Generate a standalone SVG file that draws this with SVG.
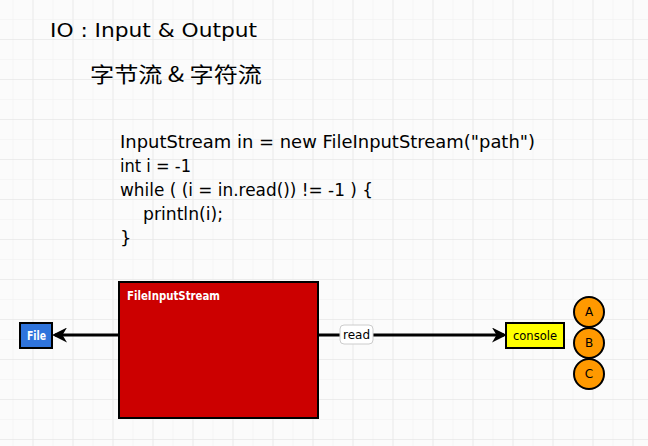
<svg xmlns="http://www.w3.org/2000/svg" width="648" height="446" viewBox="0 0 648 446">
  <defs>
    <pattern id="minor" x="12.5" y="19" width="20" height="20" patternUnits="userSpaceOnUse">
      <path d="M0 0H20M0 0V20" fill="none" stroke="#efefef" stroke-width="1"/>
    </pattern>
    <pattern id="major" x="32.5" y="39" width="40" height="40" patternUnits="userSpaceOnUse">
      <path d="M0 0H40M0 0V40" fill="none" stroke="#e9e9e9" stroke-width="1.5"/>
    </pattern>
    <marker id="arr" viewBox="0 0 10 10" refX="8" refY="5" markerWidth="5" markerHeight="5" orient="auto">
      <path d="M0 0L10 5L0 10L3 5Z" fill="#000"/>
    </marker>
    <style>
      .t{font-family:"DejaVu Sans","Liberation Sans","Noto Sans CJK SC",sans-serif;fill:#000}
      .cjk{font-family:"Noto Sans CJK SC",sans-serif;fill:#000}
      .code{font-size:18px}
      .lbl{font-family:"DejaVu Sans","Liberation Sans",sans-serif;font-size:12px}
      .edge{stroke:#000;stroke-width:3;fill:none;marker-end:url(#arr)}
      .circ{fill:#ff9900;stroke:#000;stroke-width:2}
    </style>
  </defs>
  <rect width="648" height="446" fill="#fbfbfb"/>
  <rect width="648" height="446" fill="url(#minor)"/>
  <rect width="648" height="446" fill="url(#major)"/>

  <g id="title">
    <text class="t" x="50" y="37" font-size="20" textLength="207" lengthAdjust="spacingAndGlyphs">IO : Input &amp; Output</text>
    <text class="cjk" x="90" y="82" font-size="21" textLength="172" lengthAdjust="spacingAndGlyphs">字节流 &amp; 字符流</text>
  </g>

  <g id="code">
    <text class="t code" x="120" y="148" textLength="415" lengthAdjust="spacingAndGlyphs">InputStream in = new FileInputStream("path")</text>
    <text class="t code" x="120" y="172" textLength="71" lengthAdjust="spacingAndGlyphs">int i = -1</text>
    <text class="t code" x="120" y="196" textLength="253" lengthAdjust="spacingAndGlyphs">while ( (i = in.read()) != -1 ) {</text>
    <text class="t code" x="143" y="220" textLength="80" lengthAdjust="spacingAndGlyphs">println(i);</text>
    <text class="t code" x="120" y="244">}</text>
  </g>

  <g id="connectors">
    <line class="edge" x1="118" y1="335" x2="55" y2="335"/>
    <line class="edge" x1="318" y1="335" x2="504" y2="335"/>
    <g id="read-label">
      <rect x="340" y="325" width="33" height="19" rx="4" fill="#fff" stroke="#ccc" stroke-width="1"/>
      <text class="lbl" x="343" y="339" textLength="27" lengthAdjust="spacingAndGlyphs">read</text>
    </g>
  </g>

  <g id="FileInputStream">
    <rect x="119" y="282" width="199" height="136" fill="#cc0000" stroke="#000" stroke-width="2"/>
    <text class="lbl" x="127" y="300" textLength="93" lengthAdjust="spacingAndGlyphs" style="fill:#fff;font-weight:bold">FileInputStream</text>
  </g>

  <g id="File">
    <rect x="20" y="323" width="32" height="25" fill="#2f74dc" stroke="#000" stroke-width="2"/>
    <text class="lbl" x="27" y="340" textLength="19" lengthAdjust="spacingAndGlyphs" style="fill:#fff;font-weight:bold">File</text>
  </g>

  <g id="console">
    <rect x="506" y="323" width="58" height="25" fill="#ffff00" stroke="#000" stroke-width="2"/>
    <text class="lbl" x="513" y="340" textLength="44" lengthAdjust="spacingAndGlyphs">console</text>
  </g>

  <g id="A">
    <circle class="circ" cx="589" cy="312" r="15"/>
    <text class="lbl" x="589" y="316" text-anchor="middle">A</text>
  </g>
  <g id="B">
    <circle class="circ" cx="589" cy="343" r="15"/>
    <text class="lbl" x="589" y="347" text-anchor="middle">B</text>
  </g>
  <g id="C">
    <circle class="circ" cx="589" cy="374" r="15"/>
    <text class="lbl" x="589" y="378" text-anchor="middle">C</text>
  </g>
</svg>
